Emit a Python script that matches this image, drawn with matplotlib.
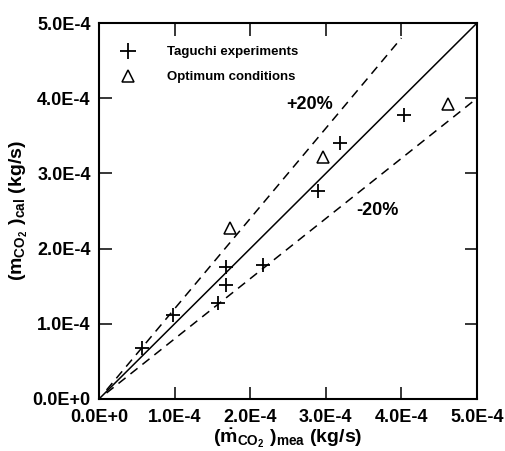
import matplotlib
matplotlib.use("Agg")
import matplotlib.pyplot as plt

plt.rcParams['font.family'] = ['Liberation Sans', 'DejaVu Sans']
plt.rcParams['font.weight'] = 'bold'
plt.rcParams['mathtext.fontset'] = 'custom'
plt.rcParams['mathtext.rm'] = 'Liberation Sans:bold'
plt.rcParams['mathtext.it'] = 'Liberation Sans:bold'
plt.rcParams['mathtext.bf'] = 'Liberation Sans:bold'
plt.rcParams['lines.scale_dashes'] = False

# Taguchi experiments (measured, calculated) in kg/s
taguchi_mea = [0.565e-4, 0.985e-4, 1.58e-4, 1.68e-4, 1.68e-4, 2.17e-4, 2.895e-4, 3.19e-4, 4.03e-4]
taguchi_cal = [0.68e-4, 1.115e-4, 1.27e-4, 1.515e-4, 1.76e-4, 1.78e-4, 2.77e-4, 3.41e-4, 3.775e-4]

# Optimum conditions
optimum_mea = [1.735e-4, 2.96e-4, 4.62e-4]
optimum_cal = [2.28e-4, 3.22e-4, 3.92e-4]

# reference lines
perfect_x = [0.0, 5.0e-4]
upper_x = [0.1e-4, 4.0e-4]
lower_x = [0.1e-4, 4.95e-4]

ticks = [0.0, 1.0e-4, 2.0e-4, 3.0e-4, 4.0e-4, 5.0e-4]
tick_labels = ["0.0E+0", "1.0E-4", "2.0E-4", "3.0E-4", "4.0E-4", "5.0E-4"]

fig = plt.figure(figsize=(5.05, 4.51), dpi=100)
ax = fig.add_axes([0.196, 0.1153, 0.7486, 0.8337])

ax.plot(perfect_x, perfect_x, color='black', lw=1.1)
ax.plot(upper_x, [1.2 * v for v in upper_x], color='black', lw=1.1, dashes=(6.5, 4.5))
ax.plot(lower_x, [0.8 * v for v in lower_x], color='black', lw=1.1, dashes=(6.5, 4.5))

ax.plot(taguchi_mea, taguchi_cal, linestyle='none', marker='+', ms=10, mew=1.3,
        color='black', label='Taguchi experiments')
ax.plot(optimum_mea, optimum_cal, linestyle='none', marker='^', ms=8, mew=1.1,
        mfc='none', mec='black', label='Optimum conditions')

ax.text(2.79e-4, 3.91e-4, "+20%", fontsize=13, fontweight='bold', ha='center', va='center')
ax.text(3.68e-4, 2.51e-4, "-20%", fontsize=13, fontweight='bold', ha='center', va='center')

ax.set_xlim(0, 5.0e-4)
ax.set_ylim(0, 5.0e-4)
ax.set_xticks(ticks)
ax.set_xticklabels(tick_labels)
ax.set_yticks(ticks)
ax.set_yticklabels(tick_labels)
ax.tick_params(direction='in', length=9, width=1.1, labelsize=13,
               top=True, right=True)
ax.tick_params(axis='x', pad=7)
ax.tick_params(axis='y', pad=6)
for lab in ax.get_xticklabels() + ax.get_yticklabels():
    lab.set_fontweight('bold')
for sp in ax.spines.values():
    sp.set_linewidth(1.5)

ax.set_xlabel(r'$(\dot{m}_{\mathregular{CO_2}}\ )_{\mathregular{mea}}$ (kg/s)',
              fontsize=14, fontweight='bold', labelpad=1)
ax.set_ylabel(r'$(m_{\mathregular{CO_2}}\ )_{\mathregular{cal}}$ (kg/s)',
              fontsize=14, fontweight='bold', labelpad=2)

ax.legend(loc='upper left', bbox_to_anchor=(0.02, 0.97), frameon=False,
          prop={'size': 9.5, 'weight': 'bold'}, handletextpad=2.2,
          labelspacing=0.95, markerscale=1.15, handlelength=1.5)

fig.savefig("out.png", dpi=100)
